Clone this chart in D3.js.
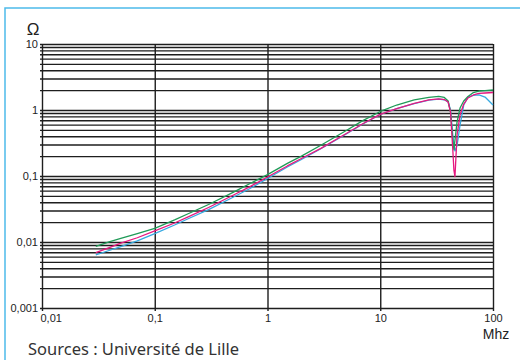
<!DOCTYPE html>
<html lang="fr">
<head>
  <meta charset="UTF-8">
  <title>Impédance</title>
  <script src="https://cdn.jsdelivr.net/npm/d3@7"></script>
  <style>
    body { margin: 0; background: #fff; }
    svg { display: block; }
    .tick text { font-family: "Liberation Sans", Arial, sans-serif; font-size: 11px; fill: #222; }
  </style>
</head>
<body>
  <svg id="chart"></svg>
  <script>
    // frequence en MHz
    const freqs = [0.03, 0.04, 0.05, 0.07, 0.1, 0.15, 0.2, 0.3, 0.5, 0.7, 1, 1.5, 2, 3, 5, 7, 10,
                   14, 20, 27, 33, 37, 40, 42, 44, 45, 46, 48, 51, 55, 60, 67, 75, 85, 100];
    // impedance en ohm
    const greenVals = [0.0086, 0.0101, 0.0113, 0.0134, 0.0161, 0.0216, 0.027, 0.037, 0.057, 0.077, 0.105,
                       0.155, 0.20, 0.295, 0.49, 0.69, 0.95, 1.19, 1.42, 1.55, 1.61, 1.55, 1.37, 0.93,
                       0.35, 0.25, 0.35, 0.66, 1.07, 1.37, 1.6, 1.84, 1.94, 1.97, 2.01];
    const blueVals = [0.0064, 0.0075, 0.0085, 0.0104, 0.0134, 0.0181, 0.0227, 0.031, 0.048, 0.0647, 0.0917,
                      0.137, 0.178, 0.261, 0.433, 0.614, 0.855, 1.05, 1.25, 1.41, 1.46, 1.43, 1.32, 1.0,
                      0.42, 0.29, 0.24, 0.29, 0.59, 1.19, 1.57, 1.66, 1.69, 1.57, 1.19];
    const magentaVals = [0.0069, 0.0083, 0.0096, 0.0116, 0.0147, 0.0194, 0.0243, 0.0333, 0.0515, 0.069, 0.0966,
                         0.142, 0.184, 0.265, 0.44, 0.62, 0.86, 1.05, 1.26, 1.42, 1.47, 1.44, 1.32, 0.93,
                         0.25, 0.123, 0.098, 0.42, 0.84, 1.23, 1.52, 1.69, 1.78, 1.81, 1.84];

    const xTicks = [0.01, 0.1, 1, 10, 100];
    const xLabels = ['0,01', '0,1', '1', '10', '100'];
    const yTicks = [0.001, 0.01, 0.1, 1, 10];
    const yLabels = ['0,001', '0,01', '0,1', '1', '10'];

    const width = 520, height = 360;
    const plot = { left: 42, right: 493, top: 44, bottom: 308 };

    let svg = d3.select('#chart').attr('width', width).attr('height', height);

    // cadre bleu
    svg.append('rect')
      .attr('x', 5).attr('y', 8)
      .attr('width', 530).attr('height', 380)
      .attr('fill', 'none')
      .attr('stroke', '#4dbbea')
      .attr('stroke-width', 1.5);

    let x = d3.scaleLog().domain([0.01, 100]).range([plot.left, plot.right]);
    let y = d3.scaleLog().domain([0.001, 10]).range([plot.bottom, plot.top]);

    // toutes les lignes horizontales : 1..9 par decade
    let yGrid = [];
    for (let e = -3; e < 1; e++) {
      for (let k = 1; k < 10; k++) yGrid.push(+(k * Math.pow(10, e)).toPrecision(3));
    }
    yGrid.push(10);

    let yAxis = d3.axisLeft(y)
      .tickValues(yGrid)
      .tickSize(-(plot.right - plot.left))
      .tickPadding(5)
      .tickFormat(d => {
        let i = yTicks.findIndex(t => Math.abs(t - d) < d * 1e-6);
        return i >= 0 ? yLabels[i] : '';
      });

    let gy = svg.append('g')
      .attr('transform', `translate(${plot.left},0)`)
      .call(yAxis);
    gy.select('.domain').remove();
    gy.selectAll('.tick line')
      .attr('x1', -2)
      .attr('stroke', '#1e1e1e')
      .attr('stroke-width', 1.4);
    gy.selectAll('.tick text').attr('dy', '0.35em').attr('x', -4);

    let xAxis = d3.axisBottom(x)
      .tickValues(xTicks)
      .tickSize(-(plot.bottom - plot.top))
      .tickPadding(5)
      .tickFormat((d, i) => xLabels[i]);

    let gx = svg.append('g')
      .attr('transform', `translate(0,${plot.bottom})`)
      .call(xAxis);
    gx.select('.domain').remove();
    gx.selectAll('.tick line')
      .attr('y1', 3)
      .attr('stroke', '#1e1e1e')
      .attr('stroke-width', 1.4);
    gx.selectAll('.tick text')
      .attr('y', 6)
      .attr('dy', '0.71em')
      .attr('text-anchor', (d, i) => i === 0 ? 'start' : 'middle')
      .attr('dx', (d, i) => i === 0 ? -2 : 0);

    // courbes
    let line = d3.line()
      .x(d => x(d[0]))
      .y(d => y(d[1]));

    let series = [
      { vals: blueVals, color: '#36a9e1' },
      { vals: greenVals, color: '#1f9a57' },
      { vals: magentaVals, color: '#e6177f' }
    ];
    series.forEach(s => {
      svg.append('path')
        .datum(freqs.map((f, i) => [f, s.vals[i]]))
        .attr('d', line)
        .attr('fill', 'none')
        .attr('stroke', s.color)
        .attr('stroke-width', 1.3)
        .attr('stroke-linejoin', 'round');
    });

    // titres des axes
    svg.append('text')
      .attr('x', 33).attr('y', 35)
      .attr('text-anchor', 'middle')
      .style('font-family', '"Liberation Sans", Arial, sans-serif')
      .style('font-size', '17px')
      .style('fill', '#222')
      .text('Ω');

    svg.append('text')
      .attr('x', 496).attr('y', 339)
      .attr('text-anchor', 'middle')
      .style('font-family', '"Liberation Sans", Arial, sans-serif')
      .style('font-size', '14px')
      .style('fill', '#222')
      .text('Mhz');

    svg.append('text')
      .attr('x', 28).attr('y', 355)
      .style('font-family', '"Noto Sans", sans-serif')
      .style('font-size', '16.5px')
      .style('fill', '#333')
      .text('Sources : Université de Lille');
  </script>
</body>
</html>
